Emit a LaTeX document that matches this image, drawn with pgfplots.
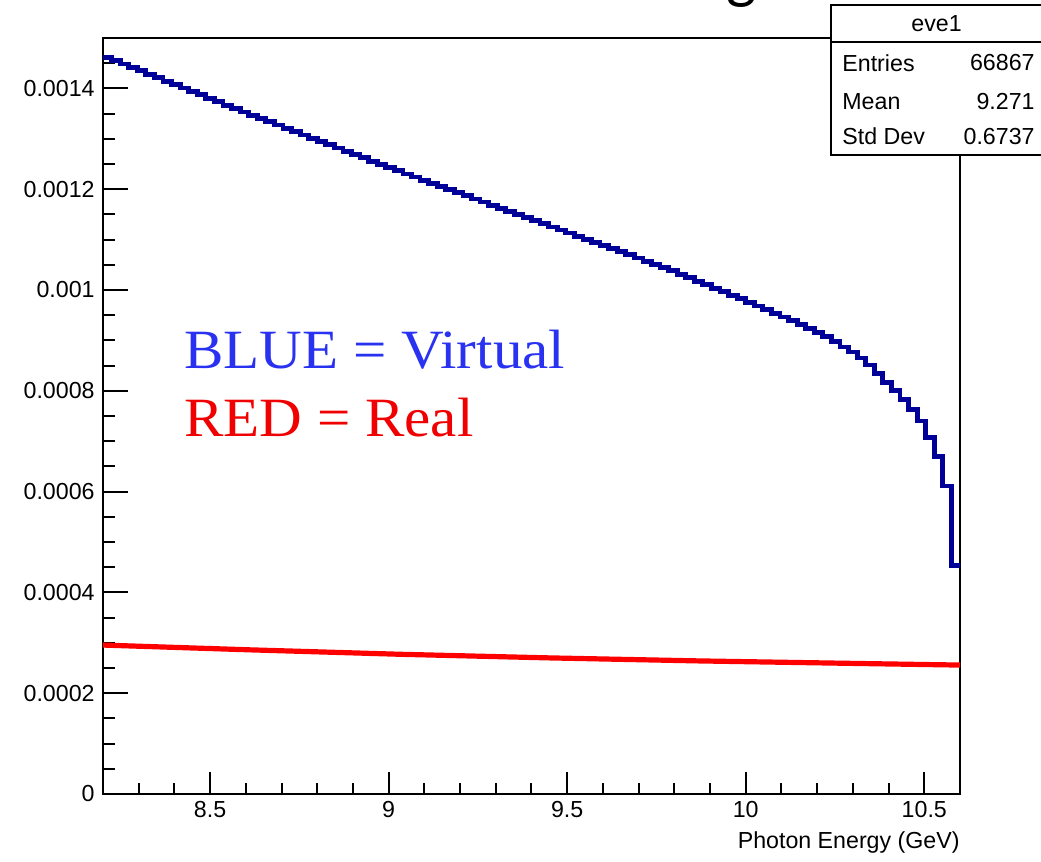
\documentclass[border=0pt]{standalone}
\usepackage{fontspec}
\setmainfont{Liberation Sans}
\newfontfamily\annotfont[FakeStretch=1.066]{Liberation Serif}
\newfontfamily\titlefont{Carlito}
\usepackage{pgfplots}
\pgfplotsset{compat=1.18}
\usepackage{pgfplotstable}
\definecolor{histblue}{RGB}{0,0,153}
\definecolor{txtblue}{RGB}{40,50,240}
\definecolor{txtred}{RGB}{240,0,0}

\pgfplotstableread{
x y
8.200 0.0014620
8.224 0.0014552
8.248 0.0014484
8.272 0.0014416
8.296 0.0014348
8.320 0.0014280
8.344 0.0014212
8.368 0.0014144
8.392 0.0014076
8.416 0.0014008
8.440 0.0013940
8.464 0.0013872
8.488 0.0013804
8.512 0.0013736
8.536 0.0013668
8.560 0.0013600
8.584 0.0013532
8.608 0.0013467
8.632 0.0013402
8.656 0.0013337
8.680 0.0013272
8.704 0.0013207
8.728 0.0013142
8.752 0.0013077
8.776 0.0013012
8.800 0.0012947
8.824 0.0012882
8.848 0.0012817
8.872 0.0012752
8.896 0.0012687
8.920 0.0012622
8.944 0.0012557
8.968 0.0012492
8.992 0.0012427
9.016 0.0012365
9.040 0.0012303
9.064 0.0012241
9.088 0.0012179
9.112 0.0012117
9.136 0.0012055
9.160 0.0011993
9.184 0.0011931
9.208 0.0011869
9.232 0.0011807
9.256 0.0011745
9.280 0.0011683
9.304 0.0011621
9.328 0.0011559
9.352 0.0011497
9.376 0.0011435
9.400 0.0011373
9.424 0.0011312
9.448 0.0011251
9.472 0.0011190
9.496 0.0011129
9.520 0.0011068
9.544 0.0011007
9.568 0.0010946
9.592 0.0010885
9.616 0.0010824
9.640 0.0010763
9.664 0.0010699
9.688 0.0010635
9.712 0.0010571
9.736 0.0010507
9.760 0.0010443
9.784 0.0010379
9.808 0.0010315
9.832 0.0010245
9.856 0.0010175
9.880 0.0010105
9.904 0.0010035
9.928 0.0009965
9.952 0.0009895
9.976 0.0009825
10.000 0.0009755
10.024 0.0009684
10.048 0.0009612
10.072 0.0009539
10.096 0.0009465
10.120 0.0009390
10.144 0.0009314
10.168 0.0009237
10.192 0.0009159
10.216 0.0009080
10.240 0.0008980
10.264 0.0008870
10.288 0.0008770
10.312 0.0008650
10.336 0.0008510
10.360 0.0008340
10.384 0.0008170
10.408 0.0008000
10.432 0.0007830
10.456 0.0007630
10.480 0.0007400
10.504 0.0007080
10.528 0.0006700
10.552 0.0006110
10.576 0.0004540
10.600 0.0004540
}\virtualtab

\begin{document}
\begin{tikzpicture}
\begin{axis}[
  at={(51.5pt,34pt)}, anchor=south west,
  scale only axis, width=428.5pt, height=378pt,
  xmin=8.2, xmax=10.6, ymin=0, ymax=0.0015,
  tick pos=left, tick align=inside,
  xtick={8.5,9,9.5,10,10.5},
  xticklabels={8.5,9,9.5,10,10.5},
  minor xtick={8.3,8.4,8.6,8.7,8.8,8.9,9.1,9.2,9.3,9.4,9.6,9.7,9.8,9.9,10.1,10.2,10.3,10.4},
  ytick={0,0.0002,0.0004,0.0006,0.0008,0.001,0.0012,0.0014},
  yticklabels={0,0.0002,0.0004,0.0006,0.0008,0.001,0.0012,0.0014},
  minor ytick={0.00005,0.0001,0.00015,0.00025,0.0003,0.00035,0.00045,0.0005,0.00055,0.00065,0.0007,0.00075,0.00085,0.0009,0.00095,0.00105,0.0011,0.00115,0.00125,0.0013,0.00135,0.00145},
  scaled y ticks=false, scaled x ticks=false,
  axis line style={line width=1pt},
  every tick/.style={black, line width=1pt},
  major tick length=12.5pt, minor tick length=6pt,
  xtick style={/pgfplots/major tick length=11pt, /pgfplots/minor tick length=5.5pt},
  tick label style={font=\fontsize{11.6pt}{13pt}\selectfont, inner sep=0pt},
  yticklabel style={anchor=east, xshift=-4pt},
  xticklabel style={anchor=north, yshift=-3.5pt},
  xlabel={Photon Energy (GeV)},
  xlabel style={at={(rel axis cs:1,0)}, anchor=base east, yshift=-27.5pt, inner sep=0pt, font=\fontsize{11.6pt}{13pt}\selectfont},
]
\addplot[const plot mark left, histblue, line width=2.4pt, no marks] table[x=x,y=y]{\virtualtab};
\addplot[red, line width=2.6pt, no marks] coordinates {
(8.2,0.0002955) (8.612,0.0002860) (9.032,0.0002772) (9.452,0.0002700) (9.872,0.0002640) (10.292,0.0002592) (10.6,0.0002558)};
\end{axis}
% stats box
\filldraw[fill=white, draw=black, line width=1pt] (415.5pt,353.5pt) rectangle (540pt,428.5pt);
\draw[line width=1pt] (415.5pt,410pt) -- (540pt,410pt);
\begin{scope}[every node/.style={inner sep=0pt, font=\fontsize{11.6pt}{13pt}\selectfont}]
\node at (468.3pt,419pt) {eve1};
\node[anchor=west] at (421pt,399.5pt) {Entries};
\node[anchor=west] at (421pt,380.2pt) {Mean};
\node[anchor=west] at (421pt,362.7pt) {Std Dev};
\node[anchor=east] at (517.5pt,399.5pt) {66867};
\node[anchor=east] at (517.5pt,380.2pt) {9.271};
\node[anchor=east] at (517.5pt,362.7pt) {0.6737};
\end{scope}
% annotation
\node[anchor=base west, inner sep=0pt, text=txtblue, font=\annotfont\fontsize{27.7pt}{30pt}\selectfont] at (92pt,246.85pt) {BLUE = Virtual};
\node[anchor=base west, inner sep=0pt, text=txtred, font=\annotfont\fontsize{27.7pt}{30pt}\selectfont] at (92pt,212.65pt) {RED = Real};
% title fragment (cut off at the top, as in the reference)
\node[anchor=base, inner sep=0pt, font=\titlefont\fontsize{32pt}{36pt}\selectfont] at (371pt,432.6pt) {g};
\pgfresetboundingbox
\useasboundingbox (0,0) rectangle (520.5pt,431pt);
\end{tikzpicture}
\end{document}
